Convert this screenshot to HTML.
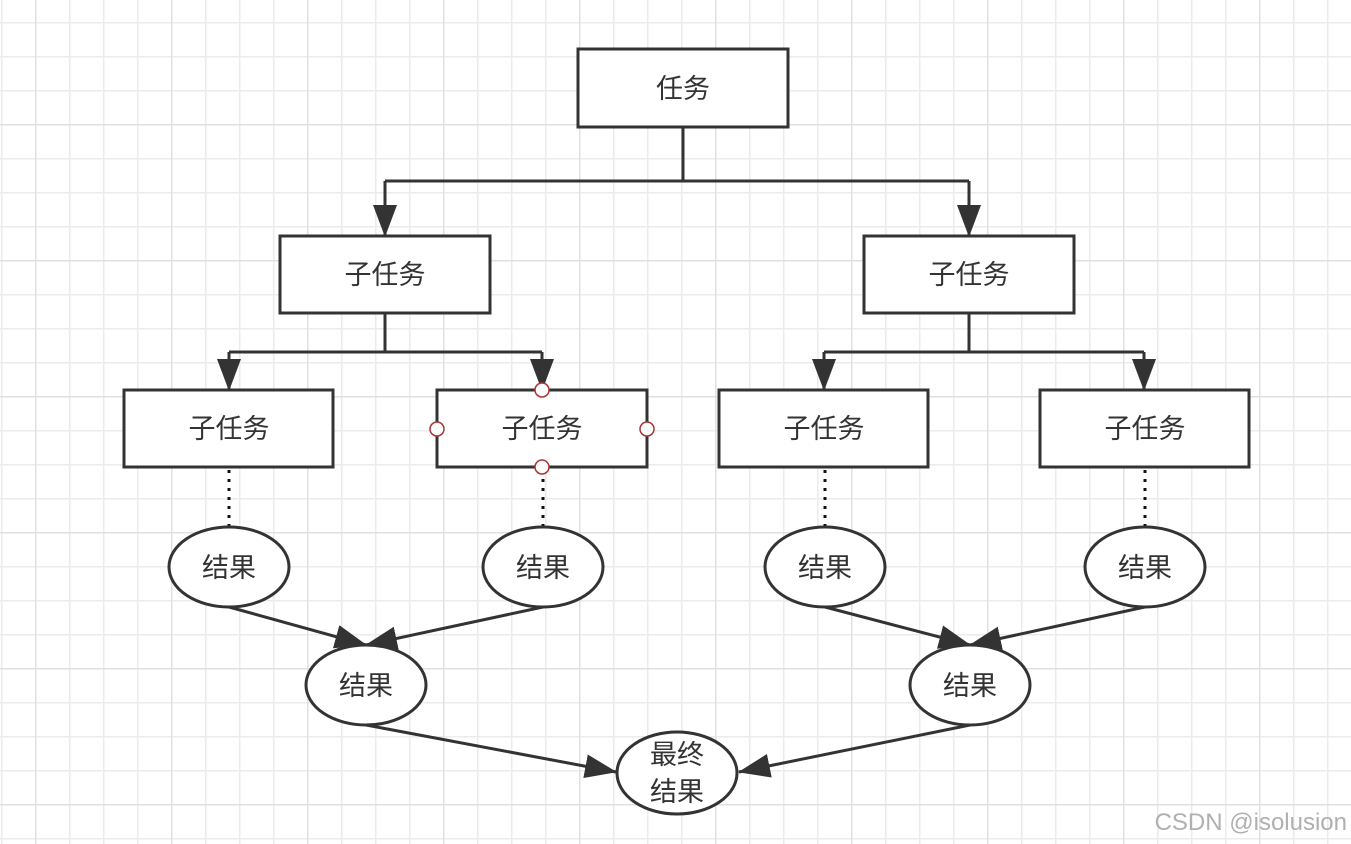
<!DOCTYPE html>
<html><head><meta charset="utf-8"><style>
html,body{margin:0;padding:0;background:#fff;}
svg{display:block;}
text{font-family:"Liberation Sans","Noto Sans CJK SC",sans-serif;font-size:27px;fill:#333;}
</style></head><body>
<svg width="1351" height="844" viewBox="0 0 1351 844" xmlns="http://www.w3.org/2000/svg">
<defs>
<pattern id="g" x="1" y="22" width="34" height="34" patternUnits="userSpaceOnUse">
<path d="M0 0V34M0 0H34" stroke="#ebebeb" stroke-width="3" fill="none"/>
</pattern>
<pattern id="G" x="35" y="124" width="136" height="136" patternUnits="userSpaceOnUse">
<path d="M0 0V136M0 0H136" stroke="#e0e0e0" stroke-width="3" fill="none"/>
</pattern>
<marker id="b" viewBox="0 0 32 24" refX="31" refY="12" markerWidth="32" markerHeight="24" markerUnits="userSpaceOnUse" orient="auto">
<path d="M0 0L32 12L0 24Z" fill="#333"/>
</marker>
</defs>
<rect width="1351" height="844" fill="url(#g)"/>
<rect width="1351" height="844" fill="url(#G)"/>
<g stroke="#333" stroke-width="3" fill="none">
<path d="M683 127V181M385 181H969"/>
<path d="M385 181V236" marker-end="url(#b)"/>
<path d="M969 181V236" marker-end="url(#b)"/>
<path d="M385 313V352M229 352H542M969 313V352M824 352H1144"/>
<path d="M229 352V390" marker-end="url(#b)"/>
<path d="M542 352V390" marker-end="url(#b)"/>
<path d="M824 352V390" marker-end="url(#b)"/>
<path d="M1144 352V390" marker-end="url(#b)"/>
<path d="M229 607L366 645" marker-end="url(#b)"/>
<path d="M543 607L366 645" marker-end="url(#b)"/>
<path d="M825 607L970 645" marker-end="url(#b)"/>
<path d="M1145 607L970 645" marker-end="url(#b)"/>
<path d="M366 725L616 772" marker-end="url(#b)"/>
<path d="M970 725L739 772" marker-end="url(#b)"/>
</g>
<g stroke="#111" stroke-width="3" stroke-dasharray="3 6" fill="none">
<path d="M229 470V526M543 470V526M825 470V526M1145 470V526"/>
</g>
<g stroke="#333" stroke-width="3" fill="#fff">
<rect x="578" y="49" width="210" height="78"/>
<rect x="280" y="236" width="210" height="77"/>
<rect x="864" y="236" width="210" height="77"/>
<rect x="124" y="390" width="209" height="77"/>
<rect x="437" y="390" width="210" height="77"/>
<rect x="719" y="390" width="209" height="77"/>
<rect x="1040" y="390" width="209" height="77"/>
<ellipse cx="229" cy="567" rx="60" ry="40"/>
<ellipse cx="543" cy="567" rx="60" ry="40"/>
<ellipse cx="825" cy="567" rx="60" ry="40"/>
<ellipse cx="1145" cy="567" rx="60" ry="40"/>
<ellipse cx="366" cy="685" rx="60" ry="40"/>
<ellipse cx="970" cy="685" rx="60" ry="40"/>
<ellipse cx="677" cy="773" rx="60" ry="41"/>
</g>
<g stroke="#a33" stroke-width="1.5" fill="#fff">
<circle cx="542" cy="390" r="7"/><circle cx="542" cy="467" r="7"/>
<circle cx="437" cy="429" r="7"/><circle cx="647" cy="429" r="7"/>
</g>
<g text-anchor="middle">
<text x="683" y="98">任务</text>
<text x="385" y="284">子任务</text>
<text x="969" y="284">子任务</text>
<text x="229" y="438">子任务</text>
<text x="542" y="438">子任务</text>
<text x="824" y="438">子任务</text>
<text x="1145" y="438">子任务</text>
<text x="229" y="577">结果</text>
<text x="543" y="577">结果</text>
<text x="825" y="577">结果</text>
<text x="1145" y="577">结果</text>
<text x="366" y="695">结果</text>
<text x="970" y="695">结果</text>
<text x="677" y="764">最终</text>
<text x="677" y="801">结果</text>
</g>
<text x="1347" y="830" text-anchor="end" style="font-size:24px;fill:#b0b0b0">CSDN @isolusion</text>
</svg>
</body></html>
